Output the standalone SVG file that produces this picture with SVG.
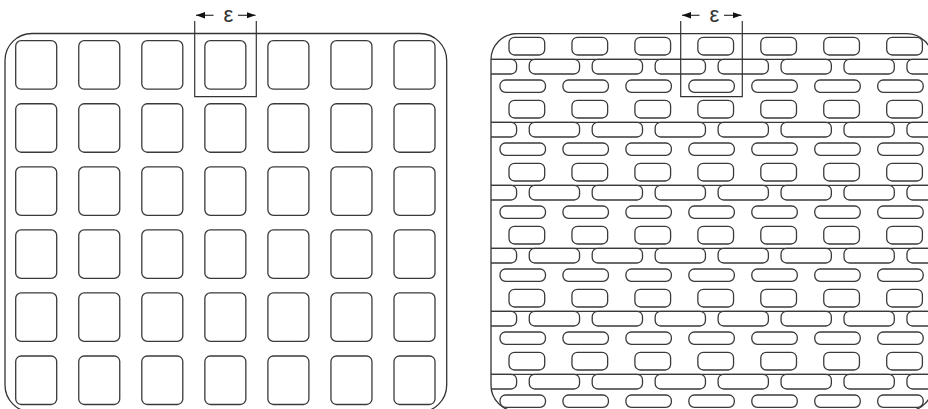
<svg xmlns="http://www.w3.org/2000/svg" xmlns:xlink="http://www.w3.org/1999/xlink" width="928" height="409" viewBox="0 0 928 409">
<defs>
<style>
.frame{fill:none;stroke:#333;stroke-width:1.3}
.cell{fill:none;stroke:#3a3a3a;stroke-width:1.3}
.dim{fill:none;stroke:#333;stroke-width:1.2}
.eps{font-family:"Liberation Sans","DejaVu Sans",sans-serif;font-size:22px;fill:#333}
</style>
<marker id="ah" markerUnits="userSpaceOnUse" markerWidth="10" markerHeight="8" refX="9" refY="4" orient="auto">
<path d="M0,0.8 L9,4 L0,7.2 z" fill="#111"/>
</marker>
<clipPath id="clipR"><rect x="491" y="33.7" width="441.7" height="377.5" rx="26"/></clipPath>
<rect id="sq" width="41" height="48.5" rx="5.5" class="cell"/>
<g id="period">
<rect x="509" y="37.3" width="35.7" height="17.7" rx="5.5"/>
<rect x="571.95" y="37.3" width="35.7" height="17.7" rx="5.5"/>
<rect x="634.9" y="37.3" width="35.7" height="17.7" rx="5.5"/>
<rect x="697.85" y="37.3" width="35.7" height="17.7" rx="5.5"/>
<rect x="760.8" y="37.3" width="35.7" height="17.7" rx="5.5"/>
<rect x="823.75" y="37.3" width="35.7" height="17.7" rx="5.5"/>
<rect x="886.7" y="37.3" width="35.7" height="17.7" rx="5.5"/>
<line x1="491" y1="59.3" x2="933" y2="59.3"/>
<rect x="466.3" y="59.3" width="50.3" height="14.7" rx="5.5"/>
<rect x="529.25" y="59.3" width="50.3" height="14.7" rx="5.5"/>
<rect x="592.2" y="59.3" width="50.3" height="14.7" rx="5.5"/>
<rect x="655.15" y="59.3" width="50.3" height="14.7" rx="5.5"/>
<rect x="718.1" y="59.3" width="50.3" height="14.7" rx="5.5"/>
<rect x="781.05" y="59.3" width="50.3" height="14.7" rx="5.5"/>
<rect x="844" y="59.3" width="50.3" height="14.7" rx="5.5"/>
<rect x="906.95" y="59.3" width="50.3" height="14.7" rx="5.5"/>
<rect x="500" y="80" width="45.5" height="12.3" rx="5.5"/>
<rect x="562.95" y="80" width="45.5" height="12.3" rx="5.5"/>
<rect x="625.9" y="80" width="45.5" height="12.3" rx="5.5"/>
<rect x="688.85" y="80" width="45.5" height="12.3" rx="5.5"/>
<rect x="751.8" y="80" width="45.5" height="12.3" rx="5.5"/>
<rect x="814.75" y="80" width="45.5" height="12.3" rx="5.5"/>
<rect x="877.7" y="80" width="45.5" height="12.3" rx="5.5"/>
</g>
</defs>
<rect width="928" height="409" fill="#fff"/>

<g id="left-panel">
<rect class="frame" x="5" y="33.5" width="441.7" height="378.5" rx="27"/>
<g id="left-cells">
<use xlink:href="#sq" x="15.7" y="40.7"/><use xlink:href="#sq" x="78.75" y="40.7"/><use xlink:href="#sq" x="141.8" y="40.7"/><use xlink:href="#sq" x="204.85" y="40.7"/><use xlink:href="#sq" x="267.9" y="40.7"/><use xlink:href="#sq" x="330.95" y="40.7"/><use xlink:href="#sq" x="394" y="40.7"/>
<use xlink:href="#sq" x="15.7" y="103.76"/><use xlink:href="#sq" x="78.75" y="103.76"/><use xlink:href="#sq" x="141.8" y="103.76"/><use xlink:href="#sq" x="204.85" y="103.76"/><use xlink:href="#sq" x="267.9" y="103.76"/><use xlink:href="#sq" x="330.95" y="103.76"/><use xlink:href="#sq" x="394" y="103.76"/>
<use xlink:href="#sq" x="15.7" y="166.82"/><use xlink:href="#sq" x="78.75" y="166.82"/><use xlink:href="#sq" x="141.8" y="166.82"/><use xlink:href="#sq" x="204.85" y="166.82"/><use xlink:href="#sq" x="267.9" y="166.82"/><use xlink:href="#sq" x="330.95" y="166.82"/><use xlink:href="#sq" x="394" y="166.82"/>
<use xlink:href="#sq" x="15.7" y="229.88"/><use xlink:href="#sq" x="78.75" y="229.88"/><use xlink:href="#sq" x="141.8" y="229.88"/><use xlink:href="#sq" x="204.85" y="229.88"/><use xlink:href="#sq" x="267.9" y="229.88"/><use xlink:href="#sq" x="330.95" y="229.88"/><use xlink:href="#sq" x="394" y="229.88"/>
<use xlink:href="#sq" x="15.7" y="292.94"/><use xlink:href="#sq" x="78.75" y="292.94"/><use xlink:href="#sq" x="141.8" y="292.94"/><use xlink:href="#sq" x="204.85" y="292.94"/><use xlink:href="#sq" x="267.9" y="292.94"/><use xlink:href="#sq" x="330.95" y="292.94"/><use xlink:href="#sq" x="394" y="292.94"/>
<use xlink:href="#sq" x="15.7" y="356"/><use xlink:href="#sq" x="78.75" y="356"/><use xlink:href="#sq" x="141.8" y="356"/><use xlink:href="#sq" x="204.85" y="356"/><use xlink:href="#sq" x="267.9" y="356"/><use xlink:href="#sq" x="330.95" y="356"/><use xlink:href="#sq" x="394" y="356"/>
</g>
<g id="epsilon-left">
<path class="dim" d="M194.7,21 V96.7 H256.3 V21"/>
<line class="dim" x1="213.5" y1="15.3" x2="196" y2="15.3" marker-end="url(#ah)"/>
<line class="dim" x1="238" y1="15.3" x2="255.5" y2="15.3" marker-end="url(#ah)"/>
<text class="eps" x="228.5" y="21.5" text-anchor="middle">ε</text>
</g>
</g>

<g id="right-panel">
<rect class="frame" x="491" y="33.7" width="441.7" height="377.5" rx="26"/>
<g id="right-cells" class="cell" clip-path="url(#clipR)">
<use xlink:href="#period"/>
<use xlink:href="#period" y="63"/>
<use xlink:href="#period" y="126"/>
<use xlink:href="#period" y="189"/>
<use xlink:href="#period" y="252"/>
<use xlink:href="#period" y="315"/>
</g>
<g id="epsilon-right">
<path class="dim" d="M680.7,21 V96.7 H742.3 V21"/>
<line class="dim" x1="699.5" y1="15.3" x2="682" y2="15.3" marker-end="url(#ah)"/>
<line class="dim" x1="724" y1="15.3" x2="741.5" y2="15.3" marker-end="url(#ah)"/>
<text class="eps" x="714.5" y="21.5" text-anchor="middle">ε</text>
</g>
</g>
</svg>
